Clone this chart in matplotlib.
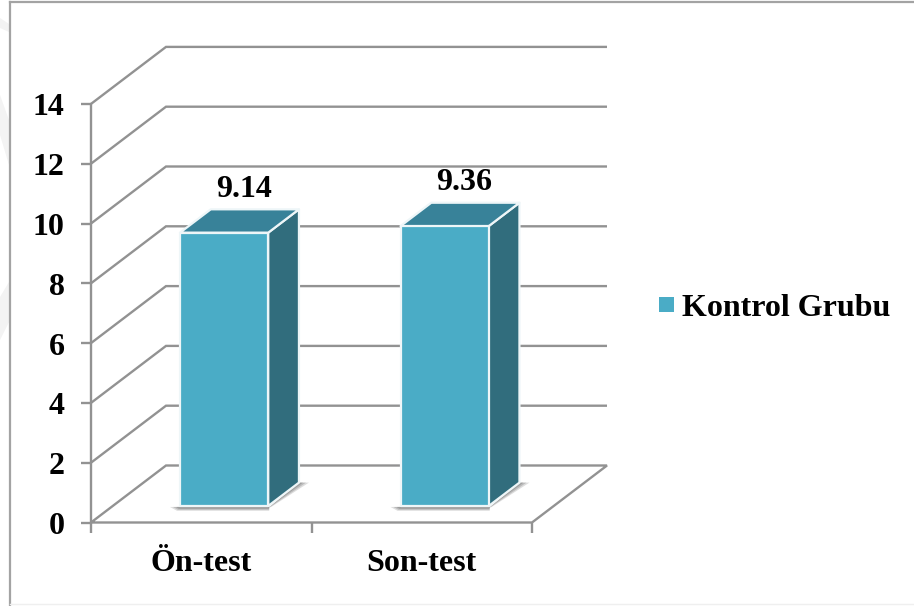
import matplotlib
matplotlib.use("Agg")
import matplotlib.pyplot as plt
from matplotlib.patches import Polygon, Rectangle

categories = ["Ön-test", "Son-test"]
values = [9.14, 9.36]
value_labels = ["9.14", "9.36"]
y_ticks = [0, 2, 4, 6, 8, 10, 12, 14]
series_name = "Kontrol Grubu"

W, H = 914, 606
X0_PX, CAT_PX = 91.0, 220.5      # pixel position of the value axis, width of one category
Y0_PX, VAL_PX = 522.5, 29.9      # pixel position of value 0, height of one value unit
DEPTH_X = 75 / CAT_PX            # oblique shift of the back wall
DEPTH_Y = 57 / VAL_PX

GRID = "#929292"
FRONT, TOP, SIDE = "#4aacc6", "#388299", "#316d7d"
FONT_SIZE = 23


def proj(x, v, d=0.0):
    """Oblique projection of (category position, value, depth 0..1)."""
    return (x + d * DEPTH_X, v + d * DEPTH_Y)


def page(x_px, y_px):
    """Convert page pixels (origin top left) to axes data coordinates."""
    return ((x_px - X0_PX) / CAT_PX, (Y0_PX - y_px) / VAL_PX)


plt.rcParams["font.family"] = ["Liberation Serif", "DejaVu Serif"]
fig = plt.figure(figsize=(W / 100, H / 100), dpi=100, facecolor="white")
ax = fig.add_axes([0, 0, 1, 1])
ax.set_xlim(-X0_PX / CAT_PX, (W - X0_PX) / CAT_PX)
ax.set_ylim((Y0_PX - H) / VAL_PX, Y0_PX / VAL_PX)
ax.axis("off")

n = len(categories)
vmax = y_ticks[-1]
px_x, px_y = 1 / CAT_PX, 1 / VAL_PX

# outer chart frame
frame_kw = dict(color="#a3a3a3", lw=1.6, zorder=1)
ax.plot(*zip(page(10, 2), page(10, H)), **frame_kw)
ax.plot(*zip(page(10, 2), page(W, 2)), **frame_kw)
ax.plot(*zip(page(10, 604), page(W, 604)), color="#efefef", lw=1, zorder=1)

# faint diagonal marks near the left edge
for shape in ([(0, 18), (9, 24), (9, 32), (0, 28)],
              [(0, 95), (9, 120), (9, 165), (0, 135)],
              [(0, 297), (9, 282), (9, 322), (0, 340)]):
    ax.add_patch(Polygon([page(*p) for p in shape], fc="#f3f3f3", ec="none", zorder=0))

# walls, floor and gridlines
line_kw = dict(color=GRID, lw=1.7, solid_joinstyle="miter", solid_capstyle="butt", zorder=2)
for t in y_ticks:
    pts = [proj(0, t, 0), proj(0, t, 1), proj(n, t, 1)]
    if t == 0:
        pts += [proj(n, 0, 0), proj(0, 0, 0)]
    ax.plot(*zip(*pts), **line_kw)
    ax.plot([-10 * px_x, 0], [t, t], **line_kw)
    ax.text(-26.5 * px_x, t - 4 * px_y, str(t), ha="right", va="center", fontsize=FONT_SIZE,
            fontweight="bold", color="black", zorder=6)
ax.plot([0, 0], [0, vmax], **line_kw)

# category ticks and labels
for i in range(n + 1):
    ax.plot([i, i], [0, -10 * px_y], **line_kw)
for i, cat in enumerate(categories):
    ax.text(i + 0.5, -41 * px_y, cat, ha="center", va="center", fontsize=FONT_SIZE,
            fontweight="bold", color="black", zorder=6)

# 3D bars
BAR_W = 0.4
D0, D1 = 0.29, 0.70
for i, (val, lab) in enumerate(zip(values, value_labels)):
    x0, x1 = i + 0.505 - BAR_W / 2, i + 0.505 + BAR_W / 2
    fl, fr, br = proj(x0, 0, D0), proj(x1, 0, D0), proj(x1, 0, D1)
    # soft floor shadow, built up from translucent layers
    for k, alpha in ((10, 0.22), (7, 0.28), (4, 0.34)):
        ax.add_patch(Polygon([(fr[0], fr[1] - 2 * px_y), br,
                              (br[0] + k * px_x, br[1]),
                              (fr[0] + k * 0.3 * px_x, fr[1] - 1 * px_y)],
                             fc="#666666", ec="none", alpha=alpha, zorder=3))
        ax.add_patch(Polygon([(fl[0] - k * px_x, fl[1] - 1 * px_y),
                              (fl[0] - 0.3 * k * px_x, fl[1] - (k / 3 + 1.5) * px_y),
                              (fr[0] + 1 * px_x, fr[1] - (k / 3 + 1.5) * px_y),
                              (fr[0] + 1 * px_x, fr[1])],
                             fc="#666666", ec="none", alpha=alpha, zorder=3))
    face_kw = dict(ec="#eef6f8", lw=1.6, joinstyle="round", zorder=4)
    ax.add_patch(Polygon([proj(x1, 0, D0), proj(x1, 0, D1), proj(x1, val, D1), proj(x1, val, D0)],
                         fc=SIDE, **face_kw))
    ax.add_patch(Polygon([proj(x0, val, D0), proj(x1, val, D0), proj(x1, val, D1), proj(x0, val, D1)],
                         fc=TOP, **face_kw))
    ax.add_patch(Polygon([proj(x0, 0, D0), proj(x1, 0, D0), proj(x1, val, D0), proj(x0, val, D0)],
                         fc=FRONT, **face_kw))
    lx, ly = proj(i + 0.5, val, D1)
    ax.text(lx - 10 * px_x, ly + 20 * px_y, lab, ha="center", va="center", fontsize=FONT_SIZE,
            fontweight="bold", color="black", zorder=6)

# legend
ax.add_patch(Rectangle(page(659, 312), 15 * px_x, 15 * px_y, fc=FRONT, ec="none", zorder=5))
ax.text(*page(682, 309), series_name, ha="left", va="center",
        fontsize=FONT_SIZE, fontweight="bold", color="black", zorder=6)

fig.savefig("out.png", dpi=100, facecolor="white")
